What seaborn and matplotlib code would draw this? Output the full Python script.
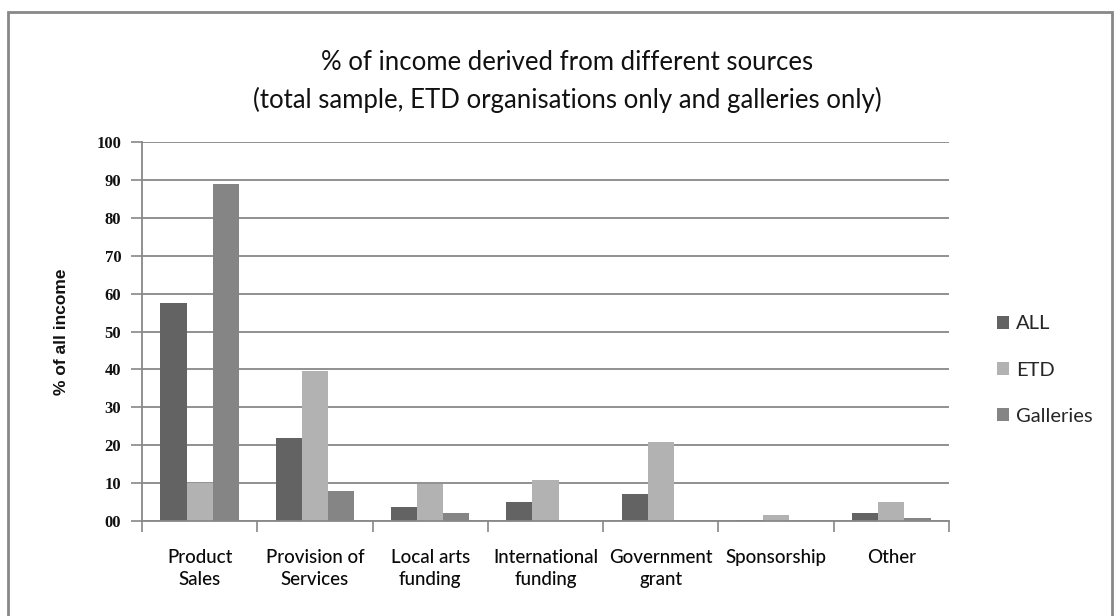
import matplotlib
matplotlib.use("Agg")
import matplotlib.pyplot as plt
from matplotlib import font_manager
from matplotlib.patches import Rectangle
import numpy as np
import pandas as pd
import seaborn as sns

# Income sources (x categories) and the three samples
categories = ["Product\nSales", "Provision of\nServices", "Local arts\nfunding",
              "International\nfunding", "Government\ngrant", "Sponsorship", "Other"]
series_names = ["ALL", "ETD", "Galleries"]
all_values = [57.5, 22.0, 3.8, 5.0, 7.2, 0.3, 2.1]
etd_values = [10.0, 39.6, 9.8, 10.9, 20.9, 1.6, 5.0]
galleries_values = [88.9, 7.9, 2.1, 0.0, 0.0, 0.0, 0.9]
y_ticks = [0, 10, 20, 30, 40, 50, 60, 70, 80, 90, 100]
y_tick_labels = ["00", "10", "20", "30", "40", "50", "60", "70", "80", "90", "100"]

colors = {"ALL": "#636363", "ETD": "#b2b2b2", "Galleries": "#858585"}
grid_color = "#888888"

available = {f.name for f in font_manager.fontManager.ttflist}


def pick(*names):
    for n in names:
        if n in available:
            return n
    return "DejaVu Sans"


narrow = pick("Liberation Sans Narrow", "DejaVu Sans Condensed", "Lato")
plain = pick("Lato", "Open Sans")
serif = pick("Liberation Serif", "DejaVu Serif")
bold_sans = pick("Liberation Sans", "Arial")

sns.set_theme(style="white")
plt.rcParams["font.family"] = [plain, "DejaVu Sans"]

df = pd.DataFrame({
    "source": categories * 3,
    "sample": sum([[s] * len(categories) for s in series_names], []),
    "value": all_values + etd_values + galleries_values,
})

W, H = 1120, 616
fig = plt.figure(figsize=(W / 100, H / 100), dpi=100)
ax = fig.add_axes([142 / W, 1 - 521 / H, 807 / W, 379 / H])

sns.barplot(data=df, x="source", y="value", hue="sample", order=categories,
            hue_order=series_names, palette=colors, width=0.68,
            saturation=1, ax=ax, linewidth=0, errorbar=None)

ax.set_xlim(-0.5, len(categories) - 0.5)
ax.set_ylim(0, 100)
ax.set_yticks(y_ticks)
ax.set_yticklabels(y_tick_labels, fontfamily=serif, fontweight="bold",
                   fontsize=12, color="#111111")
ax.yaxis.grid(True, color=grid_color, linewidth=1.3)
ax.set_axisbelow(True)

# Category labels centred, tick marks between categories
ax.set_xticks(range(len(categories)))
ax.set_xticklabels(categories, fontfamily=narrow, fontsize=13.5,
                   fontweight="medium", color="#0a0a0a", linespacing=1.35)
ax.tick_params(axis="x", which="major", length=0, pad=20)
ax.set_xticks(np.arange(-0.5, len(categories), 1.0), minor=True)
ax.tick_params(axis="x", which="minor", length=8, width=1.2, color=grid_color,
               direction="out", bottom=True)
ax.tick_params(axis="y", which="major", length=8, width=1.2, color=grid_color,
               direction="out", left=True, pad=7)

for side in ("top", "right"):
    ax.spines[side].set_visible(False)
for side in ("left", "bottom"):
    ax.spines[side].set_color(grid_color)
    ax.spines[side].set_linewidth(1.3)

ax.set_xlabel("")
ax.set_ylabel("% of all income", fontfamily=bold_sans, fontweight="bold",
              fontsize=12.5, color="#111111", labelpad=20)

handles, labels = ax.get_legend_handles_labels()
ax.legend(handles, labels, loc="center left",
          bbox_to_anchor=(989 / W, 1 - 370 / H), bbox_transform=fig.transFigure,
          frameon=False, fontsize=14.5, handlelength=0.6, handleheight=0.6,
          handletextpad=0.35, labelspacing=1.45, borderaxespad=0)

fig.text(567 / W, 1 - 62 / H, "% of income derived from different sources",
         ha="center", va="center", fontfamily=narrow, fontsize=18.5, color="#111111")
fig.text(567 / W, 1 - 100 / H,
         "(total sample, ETD organisations only and galleries only)",
         ha="center", va="center", fontfamily=narrow, fontsize=18.5, color="#111111")

# Chart area border
fig.patches.append(Rectangle((8 / W, -0.05), (1112 - 8) / W, 1.05 - 12 / H,
                             transform=fig.transFigure, fill=False,
                             edgecolor="#888888", linewidth=2))

fig.savefig("out.png", dpi=100)
